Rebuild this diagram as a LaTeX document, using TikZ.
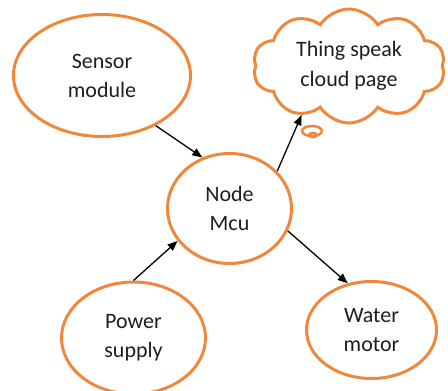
\documentclass[tikz,border=0pt]{standalone}
\usepackage{fontspec}
\setmainfont{Carlito}
\usetikzlibrary{shapes.geometric,shapes.symbols,arrows.meta}
\definecolor{borange}{RGB}{239,135,60}
\definecolor{txt}{RGB}{30,30,30}
\tikzset{
  blob/.style={ellipse,draw=borange,line width=3pt,inner sep=0pt,align=center,
    text=txt,font=\fontsize{22}{29}\selectfont},
  thought/.style={cloud,cloud puffs=10,cloud puff arc=115,cloud ignores aspect,draw=borange,line width=3pt,
    inner sep=0pt,align=center,text=txt,font=\fontsize{22}{30}\selectfont},
  bubble/.style={ellipse,draw=borange,line width=2.5pt,inner sep=0pt},
  conn/.style={draw=black,line width=1.3pt,-{Triangle[length=10pt,width=8pt]}}
}
\begin{document}
\begin{tikzpicture}[x=1pt,y=-1pt]
\useasboundingbox (0,0) rectangle (448,391);
\node[blob,minimum width=177pt,minimum height=122pt] (sensor) at (102,75.5) {Sensor\\module};
\node[blob,minimum width=124pt,minimum height=110pt] (mcu) at (229.5,208.5) {Node\\Mcu};
\node[blob,minimum width=144pt,minimum height=112pt] (power) at (133.5,338) {Power\\supply};
\node[blob,minimum width=130pt,minimum height=97pt] (water) at (371.5,330) {Water\\motor};
\node[thought,minimum width=192pt,minimum height=114pt] (cloud) at (349,66) {Thing speak\\cloud page};
\node[bubble,minimum width=20pt,minimum height=10pt] (b1) at (312,131) {};
\node[bubble,minimum width=8pt,minimum height=4pt] (b2) at (313,135) {};
\draw[conn] (sensor.-43) -- (mcu.118);
\draw[conn] (mcu.38) -- (cloud.-134);
\draw[conn] (power.north) -- (mcu.-148);
\draw[conn] (mcu.-21) -- (water.117);
\end{tikzpicture}
\end{document}
